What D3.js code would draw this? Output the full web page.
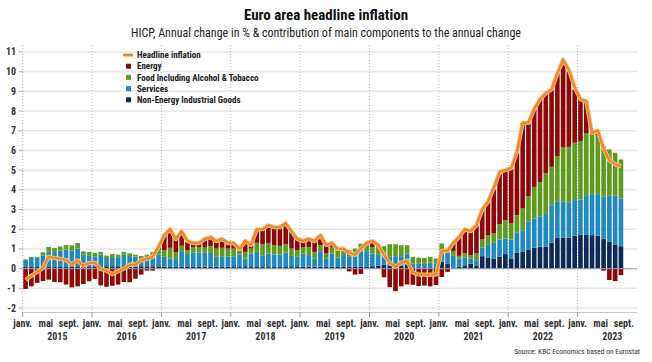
<!DOCTYPE html>
<html><head><meta charset="utf-8">
<script src="https://cdn.jsdelivr.net/npm/d3@7/dist/d3.min.js"></script>
<style>body{margin:0;background:#fff}svg{display:block}</style>
</head><body>
<svg id="chart" width="652" height="362"></svg>
<script>
// ---- data (Jan 2015 .. Aug 2023, monthly) ----
const years = [2015, 2016, 2017, 2018, 2019, 2020, 2021, 2022, 2023];
const monthTickLabels = ["janv.", "mai", "sept."];
const monthTickIndex = [0, 4, 8];
const yTicks = [-2, -1, 0, 1, 2, 3, 4, 5, 6, 7, 8, 9, 10, 11];
const seriesNames = ["Headline inflation", "Energy", "Food Including Alcohol & Tobacco", "Services", "Non-Energy Industrial Goods"];

const headline = [
  -0.57, -0.36, -0.17, 0.03, 0.6, 0.54, 0.5, 0.44, 0.22, 0.42, 0.15, 0.29,
  0.3, -0.02, -0.1, -0.28, -0.14, 0.0, 0.2, 0.2, 0.42, 0.5, 0.6, 1.1,
  1.7, 2.0, 1.5, 1.9, 1.4, 1.3, 1.3, 1.5, 1.6, 1.4, 1.5, 1.3,
  1.3, 1.0, 1.4, 1.2, 2.0, 2.0, 2.2, 2.1, 2.1, 2.3, 1.9, 1.5,
  1.4, 1.5, 1.4, 1.7, 1.2, 1.3, 1.0, 1.0, 0.8, 0.7, 1.0, 1.3,
  1.4, 1.2, 0.7, 0.3, 0.1, 0.3, 0.4, -0.2, -0.3, -0.3, -0.3, -0.3,
  0.9, 0.9, 1.3, 1.6, 2.0, 1.9, 2.2, 3.0, 3.4, 4.1, 4.9, 5.0,
  5.1, 5.9, 7.4, 7.4, 8.1, 8.6, 8.9, 9.1, 9.9, 10.6, 10.1, 9.2,
  8.6, 8.5, 6.9, 7.0, 6.1, 5.5, 5.3, 5.2
];
const neig = [
  0.08, 0.08, 0.08, 0.08, 0.08, 0.08, 0.08, 0.08, 0.08, 0.08, 0.08, 0.08,
  0.12, 0.12, 0.12, 0.12, 0.12, 0.12, 0.12, 0.12, 0.12, 0.12, 0.12, 0.12,
  0.1, 0.1, 0.1, 0.1, 0.1, 0.1, 0.1, 0.1, 0.1, 0.1, 0.1, 0.1,
  0.08, 0.08, 0.08, 0.08, 0.08, 0.08, 0.08, 0.08, 0.08, 0.08, 0.08, 0.08,
  0.1, 0.1, 0.1, 0.1, 0.1, 0.1, 0.1, 0.1, 0.1, 0.1, 0.1, 0.1,
  0.12, 0.15, 0.2, 0.15, 0.15, 0.15, 0.2, 0.03, 0.03, 0.03, 0.03, 0.03,
  0.35, 0.26, 0.06, 0.09, 0.13, 0.26, 0.13, 0.63, 0.57, 0.52, 0.6, 0.74,
  0.52, 0.8, 0.85, 0.97, 1.07, 1.11, 1.11, 1.31, 1.58, 1.56, 1.58, 1.68,
  1.73, 1.73, 1.7, 1.67, 1.53, 1.36, 1.23, 1.14
];
const services = [
  0.36, 0.46, 0.46, 0.58, 0.8, 0.77, 0.84, 0.89, 0.84, 0.94, 0.63, 0.6,
  0.51, 0.59, 0.42, 0.42, 0.46, 0.59, 0.52, 0.49, 0.42, 0.42, 0.51, 0.59,
  0.5, 0.42, 0.38, 0.75, 0.65, 0.72, 0.72, 0.7, 0.7, 0.5, 0.5, 0.5,
  0.55, 0.64, 0.44, 0.69, 0.77, 0.6, 0.69, 0.64, 0.64, 0.74, 0.57, 0.52,
  0.67, 0.59, 0.42, 0.79, 0.42, 0.67, 0.46, 0.59, 0.53, 0.56, 0.75, 0.79,
  0.65, 0.58, 0.43, 0.45, 0.48, 0.45, 0.57, 0.23, 0.22, 0.21, 0.27, 0.24,
  0.59, 0.56, 0.59, 0.43, 0.44, 0.26, 0.3, 0.43, 0.67, 0.79, 0.88, 0.79,
  0.96, 1.02, 1.1, 1.41, 1.48, 1.52, 1.66, 1.91, 1.81, 1.86, 1.76, 1.8,
  1.78, 2.0, 2.08, 2.11, 2.12, 2.34, 2.47, 2.42
];
const food = [
  0.03, 0.05, 0.04, 0.17, 0.22, 0.2, 0.21, 0.23, 0.26, 0.28, 0.17, 0.17,
  0.17, 0.14, 0.12, 0.2, 0.13, 0.14, 0.14, 0.1, 0.1, 0.17, 0.22, 0.27,
  0.34, 0.54, 0.34, 0.31, 0.19, 0.27, 0.27, 0.3, 0.34, 0.42, 0.46, 0.42,
  0.39, 0.3, 0.33, 0.25, 0.46, 0.55, 0.51, 0.47, 0.44, 0.42, 0.37, 0.34,
  0.33, 0.41, 0.33, 0.3, 0.25, 0.3, 0.38, 0.25, 0.31, 0.36, 0.42, 0.38,
  0.33, 0.41, 0.51, 0.64, 0.61, 0.59, 0.42, 0.34, 0.31, 0.31, 0.3, 0.25,
  0.34, 0.2, 0.25, 0.13, 0.2, 0.17, 0.34, 0.42, 0.46, 0.47, 0.78, 0.93,
  0.81, 0.9, 1.1, 1.3, 1.6, 1.77, 2.06, 1.95, 2.32, 2.73, 2.84, 2.91,
  2.96, 3.13, 3.08, 3.0, 2.55, 2.35, 2.18, 1.98
];
const energy = [
  -1.03, -0.9, -0.72, -0.63, -0.56, -0.68, -0.69, -0.81, -0.95, -0.9, -0.78, -0.64,
  -0.52, -0.85, -0.92, -0.87, -0.81, -0.68, -0.69, -0.51, -0.3, -0.1, -0.1, 0.12,
  0.76, 0.94, 0.71, 0.71, 0.42, 0.16, 0.16, 0.38, 0.42, 0.34, 0.39, 0.28,
  0.28, 0.0, 0.53, 0.18, 0.69, 0.77, 0.89, 0.88, 0.94, 1.06, 0.88, 0.56,
  0.3, 0.4, 0.55, 0.51, 0.43, 0.23, 0.06, 0.06, -0.14, -0.3, -0.27, 0.03,
  0.3, 0.06, -0.44, -0.94, -1.14, -0.9, -0.8, -0.82, -0.88, -0.86, -0.9, -0.83,
  -0.42, -0.16, 0.41, 0.97, 1.22, 1.18, 1.43, 1.49, 1.69, 2.24, 2.54, 2.51,
  2.79, 3.13, 4.35, 3.69, 3.93, 4.19, 4.06, 3.93, 4.19, 4.38, 3.81, 2.7,
  2.12, 1.58, 0.05, 0.25, -0.1, -0.58, -0.63, -0.33
];

const colors = {
  headline: "#ee8a2a", energy: "#8e0808", food: "#5e9b1f",
  services: "#2089c1", neig: "#0b2a55"
};
const FONT = "'Liberation Sans Narrow','Arial Narrow','Roboto Condensed',sans-serif";

(function draw() {
  const rows = headline.map((h, i) => ({
    i, headline: h, neig: neig[i], services: services[i], food: food[i], energy: energy[i]
  }));
  const keys = ["neig", "services", "food", "energy"];
  const stacked = d3.stack().keys(keys).offset(d3.stackOffsetDiverging)(rows);

  const svg = d3.select("#chart");
  const pL = 22.7, pR = 637, pT = 45, pB = 312;
  const nMonths = headline.length;
  const step = 5.78;
  const xm = d3.scaleLinear().domain([0, nMonths]).range([pL, pL + nMonths * step]);
  const x = d3.scaleBand().domain(rows.map(d => d.i)).range([pL, pL + nMonths * step])
    .paddingInner(0.2).paddingOuter(0.1);
  const y = d3.scaleLinear().domain([-2.2, 11.35]).range([pB, pT]);

  svg.append("g").selectAll("line").data(yTicks).join("line")
    .attr("x1", pL).attr("x2", pR)
    .attr("y1", d => y(d)).attr("y2", d => y(d))
    .attr("stroke", "#e6e6e6").attr("stroke-width", 1.5);

  svg.append("g").selectAll("line").data(years).join("line")
    .attr("x1", (d, k) => xm(k * 12)).attr("x2", (d, k) => xm(k * 12))
    .attr("y1", pT).attr("y2", pB)
    .attr("stroke", "#b5b5b5").attr("stroke-width", 1).attr("stroke-dasharray", "1,2");

  const yAxis = svg.append("g");
  yAxis.selectAll("line").data(yTicks).join("line")
    .attr("x1", pL - 4).attr("x2", pL).attr("y1", d => y(d)).attr("y2", d => y(d))
    .attr("stroke", "#aaa").attr("stroke-width", 1);
  yAxis.selectAll("text").data(yTicks).join("text")
    .attr("x", 16).attr("y", d => y(d)).attr("dy", "0.35em")
    .attr("text-anchor", "end").attr("font-family", FONT).attr("font-size", 10)
    .attr("font-weight", "bold").attr("fill", "#333").text(d => d);

  svg.append("g").selectAll("g").data(stacked).join("g")
    .attr("fill", d => colors[d.key])
    .selectAll("rect").data(d => d).join("rect")
    .attr("x", d => x(d.data.i)).attr("width", x.bandwidth())
    .attr("y", d => y(Math.max(d[0], d[1])))
    .attr("height", d => Math.abs(y(d[0]) - y(d[1])));

  svg.append("line").attr("x1", pL).attr("x2", pR).attr("y1", y(0)).attr("y2", y(0))
    .attr("stroke", "#9a9a9a").attr("stroke-width", 1);

  svg.append("line").attr("x1", pL).attr("x2", pR).attr("y1", pB + 0.5).attr("y2", pB + 0.5)
    .attr("stroke", "#c8c8c8").attr("stroke-width", 1);
  svg.append("g").selectAll("line").data(years).join("line")
    .attr("x1", (d, k) => xm(k * 12)).attr("x2", (d, k) => xm(k * 12))
    .attr("y1", pB).attr("y2", pB + 5).attr("stroke", "#999");

  const monthLab = [];
  years.forEach((yr, k) => monthTickIndex.forEach((m, j) => monthLab.push({ pos: k * 12 + m, text: monthTickLabels[j] })));
  svg.append("g").selectAll("text").data(monthLab).join("text")
    .attr("x", d => xm(d.pos)).attr("y", 326.5).attr("text-anchor", "middle")
    .attr("font-family", FONT).attr("font-size", 10).attr("font-weight", "bold").attr("fill", "#333")
    .text(d => d.text);
  svg.append("g").selectAll("text").data(years).join("text")
    .attr("x", (d, k) => xm(k * 12 + 6)).attr("y", 339.5).attr("text-anchor", "middle")
    .attr("font-family", FONT).attr("font-size", 10).attr("font-weight", "bold").attr("fill", "#333")
    .text(d => d);

  const line = d3.line().x(d => x(d.i) + x.bandwidth() / 2).y(d => y(d.headline));
  svg.append("path").datum(rows).attr("d", line).attr("fill", "none")
    .attr("stroke", "#f6c48f").attr("stroke-width", 4.2).attr("stroke-linejoin", "round");
  svg.append("path").datum(rows).attr("d", line).attr("fill", "none")
    .attr("stroke", colors.headline).attr("stroke-width", 2.6).attr("stroke-linejoin", "round");

  const legendKeys = ["headline", "energy", "food", "services", "neig"];
  const lg = svg.append("g");
  legendKeys.forEach((k, j) => {
    const cy = 55 + j * 11.2;
    if (k === "headline") {
      lg.append("line").attr("x1", 123).attr("x2", 133).attr("y1", cy).attr("y2", cy)
        .attr("stroke", colors.headline).attr("stroke-width", 3);
    } else {
      lg.append("rect").attr("x", 126).attr("y", cy - 2.5).attr("width", 5).attr("height", 5)
        .attr("fill", colors[k]);
    }
    lg.append("text").attr("x", 137).attr("y", cy).attr("dy", "0.35em")
      .attr("font-family", FONT).attr("font-size", 9).attr("font-weight", "bold").attr("fill", "#222")
      .text(seriesNames[j]);
  });

  svg.append("text").attr("x", 326).attr("y", 19.5).attr("text-anchor", "middle")
    .attr("font-family", FONT).attr("font-size", 15).attr("font-weight", "bold").attr("fill", "#111")
    .text("Euro area headline inflation");
  svg.append("text").attr("x", 326).attr("y", 36.5).attr("text-anchor", "middle")
    .attr("font-family", FONT).attr("font-size", 12).attr("fill", "#222")
    .text("HICP, Annual change in % & contribution of main components to the annual change");
  svg.append("text").attr("x", 640).attr("y", 354).attr("text-anchor", "end")
    .attr("font-family", FONT).attr("font-size", 7.5).attr("fill", "#333")
    .text("Source: KBC Economics based on Eurostat");
})();
</script>
</body></html>
